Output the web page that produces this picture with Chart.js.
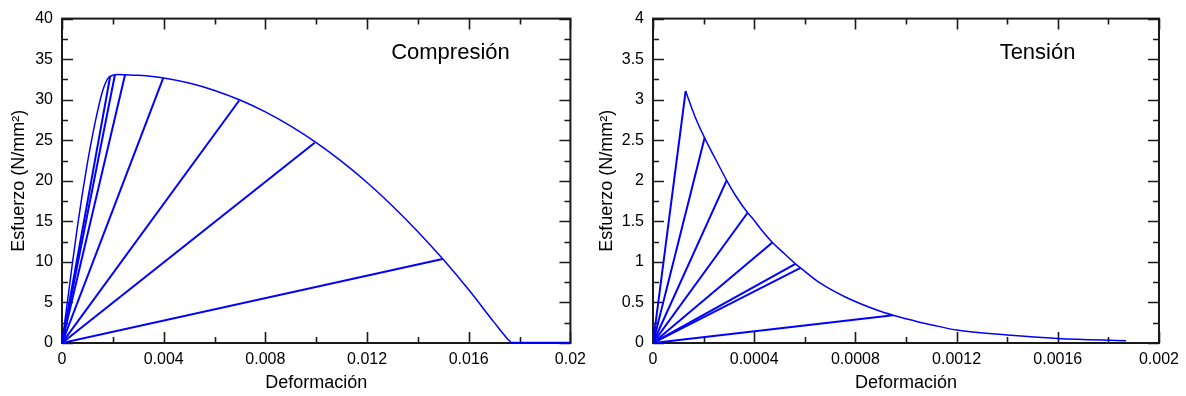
<!DOCTYPE html>
<html>
<head>
<meta charset="utf-8">
<script src="https://cdn.jsdelivr.net/npm/chart.js@4"></script>
<style>
  html,body{margin:0;padding:0;background:#fff;}
  #wrap{position:relative;width:1186px;height:396px;}
  .box{position:absolute;top:0;width:593px;height:396px;}
</style>
</head>
<body>
<div id="wrap">
  <div class="box" style="left:0"><canvas id="c1" width="593" height="396"></canvas></div>
  <div class="box" style="left:593px"><canvas id="c2" width="593" height="396"></canvas></div>
</div>
<script>
// ---------- Compression data (strain, stress N/mm2) ----------
// smooth envelope (loading + softening)
const compStrain = [0, 0.0002, 0.0004, 0.0006, 0.0008, 0.001, 0.0012, 0.0014, 0.0016, 0.0018, 0.002, 0.0022, 0.0025, 0.003, 0.004, 0.005, 0.006, 0.007, 0.008, 0.009, 0.010, 0.011, 0.012, 0.013, 0.014, 0.015, 0.016, 0.017, 0.0175, 0.0177];
const compStress = [0, 4.8, 9.6, 14.2, 18.4, 22.2, 25.6, 28.6, 31.1, 32.6, 33.02, 33.1, 33.07, 33.0, 32.68, 32.05, 31.14, 29.96, 28.49, 26.73, 24.70, 22.39, 19.79, 16.90, 13.73, 10.29, 6.56, 2.54, 0.6, 0];
// zero-stress tail
const compTailStrain = [0.0177, 0.02];
const compTailStress = [0, 0];
// unloading lines: end points on the envelope (each line starts at the origin)
const compUnloadStrain = [0.00189, 0.00208, 0.00248, 0.00398, 0.00697, 0.00994, 0.01497];
const compUnloadStress = [32.8, 33.05, 33.07, 32.66, 29.9, 24.7, 10.35];

// ---------- Tension data ----------
// linear loading to peak
const tensRiseStrain = [0, 0.000129];
const tensRiseStress = [0, 3.107];
// softening branch
const tensStrain = [0.000129, 0.000165, 0.000204, 0.00025, 0.000291, 0.00033, 0.000374, 0.00039, 0.00043, 0.000472, 0.00052, 0.000563, 0.000583, 0.00066, 0.00076, 0.00089, 0.000949, 0.00105, 0.001125, 0.0012, 0.0014, 0.0016, 0.00187];
const tensStress = [3.107, 2.8, 2.53, 2.25, 2.006, 1.8, 1.606, 1.55, 1.39, 1.239, 1.1, 0.975, 0.926, 0.74, 0.567, 0.40, 0.342, 0.26, 0.208, 0.159, 0.10, 0.057, 0.028];
const tensUnloadStrain = [0.000204, 0.000291, 0.000374, 0.000472, 0.000563, 0.000583, 0.000949];
const tensUnloadStress = [2.53, 2.006, 1.606, 1.239, 0.975, 0.926, 0.342];

// ---------- Axis ticks ----------
const compXTicks = [0, 0.004, 0.008, 0.012, 0.016, 0.02];
const compXLabels = ['0', '0.004', '0.008', '0.012', '0.016', '0.02'];
const compYTicks = [0, 5, 10, 15, 20, 25, 30, 35, 40];
const compYLabels = ['0', '5', '10', '15', '20', '25', '30', '35', '40'];
const tensXTicks = [0, 0.0004, 0.0008, 0.0012, 0.0016, 0.002];
const tensXLabels = ['0', '0.0004', '0.0008', '0.0012', '0.0016', '0.002'];
const tensYTicks = [0, 0.5, 1, 1.5, 2, 2.5, 3, 3.5, 4];
const tensYLabels = ['0', '0.5', '1', '1.5', '2', '2.5', '3', '3.5', '4'];

const xTitle = 'Deformación';
const yTitle = 'Esfuerzo (N/mm²)';

const BLUE = '#0000ff';
const FONT = 'Liberation Sans, Arial, sans-serif';

function pts(xs, ys){ return xs.map((x,i)=>({x:x, y:ys[i]})); }

function curve(xs, ys, smooth, w){
  return {data: pts(xs, ys), borderColor: BLUE, borderWidth: w || 1.5, pointRadius: 0, showLine: true,
    cubicInterpolationMode: smooth ? 'monotone' : 'default', tension: 0};
}

function unloadLines(ux, uy){
  return ux.map((x,i)=>({data: [{x:0,y:0},{x:x,y:uy[i]}], borderColor: BLUE, borderWidth: 2, pointRadius: 0, showLine: true}));
}

const frameTicks = {
  id: 'frameTicks',
  beforeDatasetsDraw(chart){
    const {ctx, chartArea:a, scales} = chart;
    const xs = scales.x, ys = scales.y;
    ctx.save();
    ctx.strokeStyle = '#1a1a1a';
    ctx.lineWidth = 1.6;
    const MAJ = 11, MIN = 6;
    const xt = chart.options.plugins.frameTicks.xt, yt = chart.options.plugins.frameTicks.yt;
    ctx.beginPath();
    const drawX = (v,len)=>{ const p = Math.round(xs.getPixelForValue(v))+0.5; ctx.moveTo(p,a.bottom); ctx.lineTo(p,a.bottom-len); ctx.moveTo(p,a.top); ctx.lineTo(p,a.top+len); };
    const drawY = (v,len)=>{ const p = Math.round(ys.getPixelForValue(v))+0.5; ctx.moveTo(a.left,p); ctx.lineTo(a.left+len,p); ctx.moveTo(a.right,p); ctx.lineTo(a.right-len,p); };
    xt.forEach((v,i)=>{ drawX(v,MAJ); if(i<xt.length-1) drawX((v+xt[i+1])/2, MIN); });
    yt.forEach((v,i)=>{ drawY(v,MAJ); if(i<yt.length-1) drawY((v+yt[i+1])/2, MIN); });
    ctx.stroke();
    ctx.lineWidth = 2;
    ctx.strokeRect(a.left, a.top, a.right-a.left, a.bottom-a.top);
    ctx.restore();
  },
  afterDraw(chart){
    const o = chart.options.plugins.frameTicks;
    const {ctx, scales} = chart;
    ctx.save();
    ctx.fillStyle = '#000';
    ctx.font = '22px ' + FONT;
    ctx.textAlign = 'center';
    ctx.textBaseline = 'middle';
    ctx.fillText(o.label, scales.x.getPixelForValue(o.lx), scales.y.getPixelForValue(o.ly));
    ctx.restore();
  }
};

function makeChart(id, datasets, xmax, ymax, xt, xl, yt, yl, label, lx, ly, yWidth, padRight, yTitlePad){
  return new Chart(document.getElementById(id), {
    type: 'scatter',
    data: {datasets: datasets},
    options: {
      responsive: false,
      animation: false,
      events: [],
      layout: {padding: {top: 16, right: padRight, left: 0, bottom: 0}},
      plugins: {legend: {display: false}, tooltip: {enabled: false},
        frameTicks: {xt: xt, yt: yt, label: label, lx: lx, ly: ly}},
      scales: {
        x: {
          type: 'linear', min: 0, max: xmax,
          grid: {display: false, drawTicks: false},
          border: {display: false},
          afterBuildTicks: s => { s.ticks = xt.map(v=>({value:v})); },
          afterFit: s => { s.height = 53; },
          ticks: {color: '#000', font: {family: FONT, size: 16}, padding: 7, maxRotation: 0, autoSkip: false,
            callback: (v)=>{ const i = xt.indexOf(v); return i>=0 ? xl[i] : ''; }},
          title: {display: true, text: xTitle, color: '#000', font: {family: FONT, size: 18}, padding: {top: 0, bottom: 2}}
        },
        y: {
          type: 'linear', min: 0, max: ymax,
          grid: {display: false, drawTicks: false},
          border: {display: false},
          afterBuildTicks: s => { s.ticks = yt.map(v=>({value:v})); },
          afterFit: s => { s.width = yWidth; },
          ticks: {color: '#000', font: {family: FONT, size: 16}, padding: 9, autoSkip: false,
            callback: (v)=>{ const i = yt.indexOf(v); return i>=0 ? yl[i] : ''; }},
          title: {display: true, text: yTitle, color: '#000', font: {family: FONT, size: 18}, padding: {top: yTitlePad, bottom: 0}}
        }
      }
    },
    plugins: [frameTicks]
  });
}

makeChart('c1',
  [curve(compStrain, compStress, true, 1.5), curve(compTailStrain, compTailStress, false, 2.5)].concat(unloadLines(compUnloadStrain, compUnloadStress)),
  0.02, 40, compXTicks, compXLabels, compYTicks, compYLabels, 'Compresión', 0.01528, 35.8, 62, 22, 8);
makeChart('c2',
  [curve(tensRiseStrain, tensRiseStress, false, 2), curve(tensStrain, tensStress, true, 1.5)].concat(unloadLines(tensUnloadStrain, tensUnloadStress)),
  0.002, 4, tensXTicks, tensXLabels, tensYTicks, tensYLabels, 'Tensión', 0.00152, 3.58, 60, 23, 3);
</script>
</body>
</html>
